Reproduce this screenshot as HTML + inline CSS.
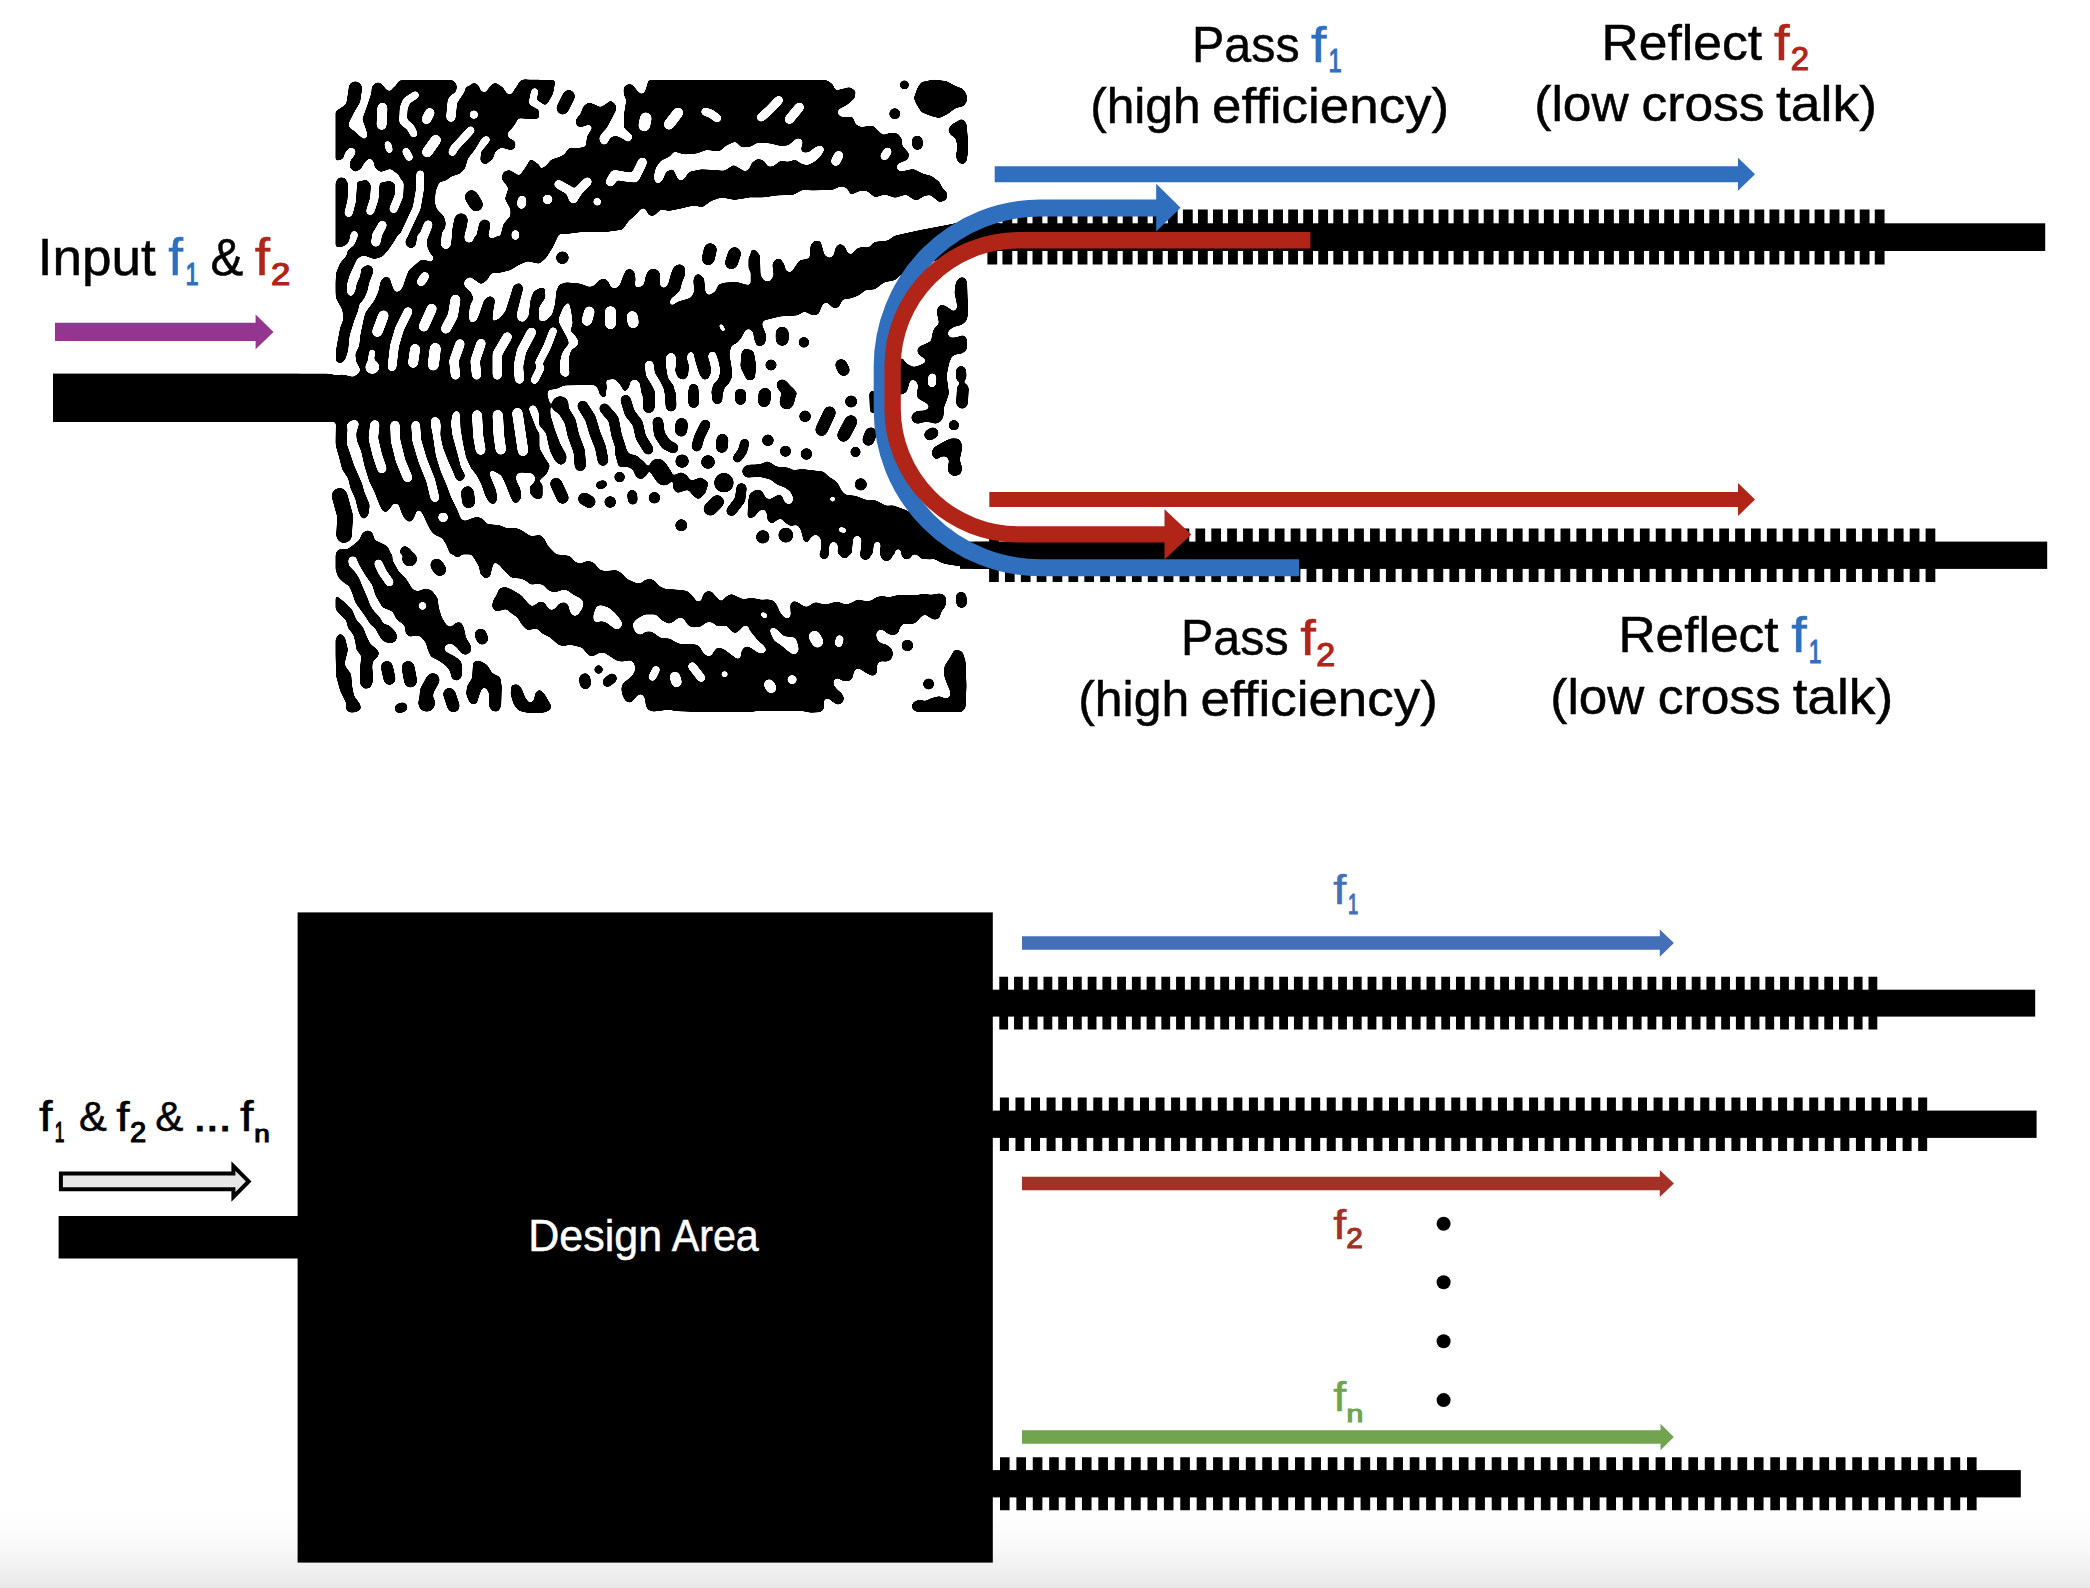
<!DOCTYPE html>
<html lang="en"><head><meta charset="utf-8"><title>Wavelength demultiplexer schematic</title>
<style>html,body{margin:0;padding:0;background:#fff}body{width:2090px;height:1588px;overflow:hidden}svg{display:block}text{font-family:"Liberation Sans",sans-serif}</style>
</head><body>
<svg width="2090" height="1588" viewBox="0 0 2090 1588">
<defs><linearGradient id="bg" x1="0" y1="0" x2="0" y2="1"><stop offset="0" stop-color="#fff"/><stop offset="0.49" stop-color="#f9f9f9"/><stop offset="1" stop-color="#e8e8e8"/></linearGradient></defs>
<rect width="2090" height="1588" fill="#fff"/>
<rect x="0" y="1510" width="2090" height="78" fill="url(#bg)"/>
<rect x="53" y="373.6" width="290" height="48.4"/>
<filter id="goo" x="0" y="0" width="100%" height="100%" filterUnits="userSpaceOnUse" color-interpolation-filters="sRGB"><feGaussianBlur stdDeviation="1.6"/><feComponentTransfer><feFuncR type="linear" slope="9" intercept="-4"/><feFuncG type="linear" slope="9" intercept="-4"/><feFuncB type="linear" slope="9" intercept="-4"/></feComponentTransfer></filter>
<g id="pattern" filter="url(#goo)" stroke-linecap="round" stroke-linejoin="round">
<rect x="300" y="50" width="700" height="700" fill="#fff"/>
<rect x="335.5" y="80" width="631.5" height="632" fill="#000"/>
<rect x="300" y="373.6" width="40" height="48.4" fill="#000"/>
<rect x="960" y="223.3" width="40" height="27.7" fill="#000"/>
<rect x="960" y="541.6" width="40" height="27.3" fill="#000"/>
<path d="M330.0 75.0L353.2 75.0L351.7 83.6L348.1 92.1L346.1 104.2L337.1 110.3L330.0 111.3z" fill="#fff"/>
<path d="M362.7 78.0L372.3 78.0L371.3 93.1L367.3 105.2L362.2 119.3L365.3 127.4L367.8 135.5L364.8 139.5L360.2 136.5L355.2 131.4L349.1 127.4L348.6 123.4L354.2 112.3L360.2 102.2L362.2 88.1z" fill="#fff"/>
<path d="M382.9 78.0L397.0 78.0L394.5 86.1L390.0 91.6L385.4 89.1L383.9 85.1z" fill="#fff"/>
<path d="M382.4 107.7L381.6 124.9" stroke="#fff" stroke-width="10.2" fill="none"/>
<path d="M415.1 95.2L406.6 100.7L403.6 108.3L403.1 121.4L410.6 127.4L413.6 133.4" stroke="#fff" stroke-width="7.9" fill="none"/>
<path d="M429.8 112.8L426.5 119.3" stroke="#fff" stroke-width="9.9" fill="none"/>
<path d="M463.0 78.0L460.0 90.1L452.4 101.2L450.9 117.3" stroke="#fff" stroke-width="9.6" fill="none"/>
<circle cx="473.9" cy="114.6" r="4.4" fill="#fff"/>
<path d="M478.1 78.0L491.2 78.0L489.7 87.1L484.7 93.1L480.1 90.1z" fill="#fff"/>
<path d="M499.3 78.0L519.4 78.0L515.9 87.1L511.4 94.6L507.3 94.1L503.3 88.1z" fill="#fff"/>
<path d="M534.6 91.6L532.5 102.2L540.0 106.2" stroke="#fff" stroke-width="7.3" fill="none"/>
<path d="M387.9 144.5L389.3 149.6" stroke="#fff" stroke-width="7.0" fill="none"/>
<path d="M406.1 151.6L409.1 157.1" stroke="#fff" stroke-width="7.7" fill="none"/>
<path d="M435.8 140.0L427.2 152.1" stroke="#fff" stroke-width="10.7" fill="none"/>
<path d="M470.6 130.4L453.9 148.6L452.4 152.1" stroke="#fff" stroke-width="8.1" fill="none"/>
<path d="M540.6 118.3L533.5 119.3L518.4 118.3L514.4 125.4L507.3 133.4L508.4 137.5L515.4 141.5L515.4 147.6L511.4 150.6L501.3 147.6L495.3 151.6L493.2 158.6L485.2 165.2L480.1 160.7L481.1 151.6L487.2 144.5L490.7 139.5L487.2 135.5L482.2 137.5L475.1 149.6L468.0 158.6L465.0 168.7L460.0 173.8L450.9 176.8L445.9 180.8L439.3 182.3L435.8 190.9L434.8 202.0L436.8 209.0L443.9 216.1L445.9 223.1L443.9 236.2L500.3 236.2L503.3 224.1L510.4 216.1L510.4 209.0L504.8 198.9L508.4 187.9L501.3 178.8L503.3 171.7L509.4 169.7L519.4 175.8L526.5 165.7L530.5 158.6L540.6 165.7z" fill="#fff"/>
<path d="M471.6 196.9L476.1 204.5" stroke="#000" stroke-width="13.8" fill="none"/>
<path d="M461.0 220.1L458.0 236.2" stroke="#000" stroke-width="13.8" fill="none"/>
<path d="M484.7 225.1L482.2 236.2" stroke="#000" stroke-width="11.6" fill="none"/>
<path d="M522.0 199.9L521.5 204.5" stroke="#fff" stroke-width="9.0" fill="none"/>
<path d="M334.0 161.7L343.1 159.1L345.1 152.6L350.2 147.0L355.7 149.6L355.2 154.6L350.2 160.7L349.6 167.7L355.2 172.2L361.2 168.7L364.3 162.7L369.3 158.1L373.3 160.7L374.8 167.7L380.4 172.2L390.5 168.7L398.5 174.8L403.1 183.8L400.5 187.9L390.5 180.8L384.4 181.8L370.8 184.8L367.3 179.8L361.2 180.8L348.1 183.8L345.1 177.8L339.1 177.3L334.0 183.8z" fill="#fff"/>
<path d="M399.5 183.8L399.0 195.9L393.5 209.0" stroke="#fff" stroke-width="8.5" fill="none"/>
<path d="M375.3 183.8L374.3 198.9L370.3 211.0" stroke="#fff" stroke-width="8.5" fill="none"/>
<path d="M352.7 183.8L351.7 201.0L348.6 213.0" stroke="#fff" stroke-width="8.5" fill="none"/>
<path d="M420.2 174.3L420.2 187.9L416.7 208.0L409.6 223.1L403.6 236.2" stroke="#fff" stroke-width="7.9" fill="none"/>
<path d="M382.4 225.1L376.4 236.2" stroke="#fff" stroke-width="9.0" fill="none"/>
<path d="M354.2 234.2L353.2 237.2" stroke="#fff" stroke-width="6.8" fill="none"/>
<path d="M428.2 224.6L423.7 236.2" stroke="#fff" stroke-width="9.0" fill="none"/>
<path d="M328.0 73.0L541.1 73.0L541.1 86.3L328.0 86.3z" fill="#fff"/>
<path d="M355.2 88.1L355.2 89.7" stroke="#000" stroke-width="13.5" fill="none"/>
<path d="M377.9 88.1L377.9 87.9" stroke="#000" stroke-width="11.1" fill="none"/>
<path d="M402.8 88.1L402.8 86.9" stroke="#000" stroke-width="14.1" fill="none"/>
<path d="M450.2 88.1L450.2 86.5" stroke="#000" stroke-width="13.3" fill="none"/>
<path d="M402.8 80.0L450.2 80.0L450.2 88.1L402.8 88.1z" fill="#000"/>
<path d="M474.1 88.1L474.1 90.1" stroke="#000" stroke-width="10.1" fill="none"/>
<path d="M495.3 88.1L495.3 89.1" stroke="#000" stroke-width="10.1" fill="none"/>
<path d="M524.7 88.1L524.7 86.3" stroke="#000" stroke-width="14.1" fill="none"/>
<path d="M524.7 79.6L541.1 79.6L541.1 88.1L524.7 88.1z" fill="#000"/>
<path d="M555.1 78.0L648.8 78.0L646.8 86.1L644.8 92.1L641.3 94.6L636.7 90.1L632.7 84.6L627.7 84.1L623.6 87.1L623.6 94.1L626.2 100.2L624.1 113.3L623.6 127.4L627.7 131.4L632.7 135.5L631.2 140.5L627.7 142.0L621.6 138.0L615.6 135.5L610.5 137.5L606.5 144.5L601.5 144.5L598.9 138.5L601.5 133.4L606.5 128.4L611.5 119.3L616.6 109.3L615.6 104.2L610.5 100.2L605.5 104.2L600.5 107.2L594.4 104.2L588.4 102.2L583.3 106.2L580.3 114.3L575.8 119.3L576.3 125.4L580.3 127.4L589.4 124.4L592.4 127.4L586.9 136.5L585.8 146.5L578.3 148.1L569.2 147.6L564.2 154.6L559.1 157.1L551.1 159.6L546.0 165.7L540.0 169.2L539.0 107.2L547.1 104.2L553.1 94.1L555.1 83.1z" fill="#fff"/>
<path d="M568.7 96.2L562.7 108.3" stroke="#000" stroke-width="12.7" fill="none"/>
<path d="M645.8 118.3L644.3 125.4" stroke="#fff" stroke-width="11.9" fill="none"/>
<path d="M678.0 112.8L669.0 124.4" stroke="#fff" stroke-width="10.7" fill="none"/>
<path d="M705.3 111.8L711.3 113.8L717.3 118.3" stroke="#fff" stroke-width="8.5" fill="none"/>
<path d="M653.9 175.8L655.9 167.7L660.9 160.7L670.0 156.6L674.0 151.6L684.1 154.6L697.2 153.6L706.3 150.1L719.4 151.6L726.4 145.5L735.5 141.5L741.5 147.6L750.6 147.0L750.6 166.7L745.6 171.7L733.5 164.7L724.4 170.7L711.3 169.7L701.2 169.2L689.1 171.7L683.1 180.3L678.6 180.3L673.0 168.7L666.0 171.7L662.9 179.8L657.9 184.3L654.4 180.8z" fill="#fff"/>
<path d="M610.5 181.8L614.6 174.8L625.7 176.8L634.7 177.8L640.8 165.7L642.3 162.2" stroke="#fff" stroke-width="9.6" fill="none"/>
<path d="M558.6 184.3L570.2 190.9L573.3 198.9" stroke="#fff" stroke-width="9.0" fill="none"/>
<path d="M587.4 181.8L578.3 190.9L573.3 198.9" stroke="#fff" stroke-width="9.0" fill="none"/>
<circle cx="547.6" cy="199.4" r="5.0" fill="#fff"/>
<circle cx="597.2" cy="201.8" r="4.0" fill="#fff"/>
<path d="M559.1 235.0L580.3 232.2L604.5 232.2L622.6 229.7L628.7 221.1L635.7 215.1L640.8 209.0L644.8 208.0L648.8 215.6L653.9 216.1L660.9 209.5L669.0 211.0L679.1 209.0L694.2 205.5L702.2 207.5L711.3 201.0L721.4 197.4L734.5 199.9L750.6 197.4L750.6 236.2L559.1 236.2z" fill="#fff"/>
<path d="M826.6 78.0L981.8 78.0L981.8 236.2L749.0 236.2L749.0 197.4L763.1 197.4L777.2 195.4L793.3 194.9L802.4 189.9L812.5 190.4L832.6 189.9L840.7 186.3L846.7 187.9L850.8 194.9L859.8 190.9L866.9 190.9L874.9 197.4L885.0 194.4L895.1 197.9L906.2 194.4L910.2 197.4L916.3 201.0L924.3 195.9L930.4 194.9L939.4 202.5L946.5 199.9L947.5 192.9L942.5 187.9L939.4 181.8L931.4 175.8L923.3 173.8L913.2 168.7L900.1 171.7L896.1 167.7L898.1 163.7L908.2 159.6L909.2 153.6L902.2 145.5L902.2 139.5L898.1 133.4L891.1 132.4L883.0 135.0L877.0 129.4L872.9 125.4L860.8 126.9L855.8 124.4L852.8 116.8L840.7 116.8L837.2 113.3L838.7 109.3L846.7 105.2L854.8 98.2L855.8 91.1L849.8 87.1L835.7 90.6L832.6 84.1L826.6 80.0z" fill="#fff"/>
<circle cx="904.4" cy="84.9" r="4.7" fill="#000"/>
<path d="M921.3 82.1L933.4 79.5L946.5 81.0L955.6 86.1L962.6 88.6L966.6 94.1L967.2 101.2L963.6 106.2L955.6 108.3L947.5 114.3L939.4 118.3L931.4 116.3L921.3 112.3L916.3 104.2L913.7 98.2L917.3 88.1z" fill="#000"/>
<circle cx="894.8" cy="113.8" r="5.7" fill="#000"/>
<path d="M917.3 141.0L917.5 144.5" stroke="#000" stroke-width="11.1" fill="none"/>
<path d="M962.6 119.0L960.6 119.3L951.5 124.4L948.0 129.4L950.0 134.5L955.6 138.5L957.6 147.6L955.6 155.6L957.6 161.7L962.6 164.7L966.6 161.7L968.2 151.6L967.7 135.5L966.6 123.4z" fill="#000"/>
<path d="M891.1 236.2L921.3 229.7L951.5 224.1L971.7 219.1L971.7 236.2z" fill="#000"/>
<path d="M778.7 100.2L770.2 109.3L761.1 117.3" stroke="#fff" stroke-width="9.0" fill="none"/>
<path d="M799.4 107.2L789.3 119.3" stroke="#fff" stroke-width="9.6" fill="none"/>
<path d="M749.0 147.0L750.0 147.0L758.1 142.5L770.2 143.5L780.2 146.0L788.3 145.5L796.4 138.5L800.4 138.5L802.9 141.5L800.9 149.6L802.4 152.6L808.4 152.6L815.5 147.0L821.5 145.0L824.6 149.6L820.5 156.6L814.5 161.7L807.4 165.2L801.4 163.7L795.3 159.6L788.3 161.7L780.2 160.7L773.2 166.2L768.1 166.7L764.1 160.7L758.1 158.6L753.0 161.7L749.0 165.7z" fill="#fff"/>
<path d="M838.7 155.6L835.7 161.2" stroke="#fff" stroke-width="9.6" fill="none"/>
<path d="M887.5 151.6L884.5 156.1" stroke="#fff" stroke-width="8.5" fill="none"/>
<path d="M377.4 234.0L375.8 242.1" stroke="#fff" stroke-width="9.6" fill="none"/>
<path d="M329.0 247.6L336.5 247.3L342.1 247.1L347.6 244.1L350.2 238.0L352.7 233.0L357.2 232.5L358.2 235.5L354.2 245.3L347.6 250.3L346.6 255.4L340.1 262.9L336.0 273.0L334.5 285.4L335.5 297.5L342.1 309.6L343.6 318.6L340.1 327.7L337.6 340.8L335.5 352.9L336.0 362.0L329.0 364.0z" fill="#fff"/>
<path d="M357.2 258.7L363.3 255.2L374.3 259.2L382.4 256.7L388.4 250.1L394.5 241.0L398.5 234.0L405.1 234.0L405.6 245.1L410.6 249.1L415.7 246.1L417.7 234.0L426.7 234.0L427.2 247.1L429.8 253.1L433.8 257.2L431.8 262.2L426.7 260.2L420.7 259.7L415.7 264.2L408.6 270.3L405.6 278.3L402.6 287.4L398.5 291.9L394.5 291.4L391.5 283.4L389.5 277.3L384.4 276.8L380.4 281.4L378.4 291.4L374.3 300.5L365.3 312.6L363.3 320.7L360.2 335.8L359.2 345.8L355.2 353.9L356.2 362.0L360.2 369.0L359.2 373.0L353.2 377.1L343.1 374.6L335.0 375.1L329.0 373.6L329.0 364.0L336.0 362.0L341.1 363.5L345.1 359.9L348.1 350.9L349.6 335.8L354.2 320.7L358.2 310.6L359.2 304.5L364.3 298.5L367.3 291.4L369.3 282.4L373.3 272.3L372.3 266.2L367.3 264.7L361.2 268.3L360.2 276.3L356.7 283.4L355.2 291.4L351.2 297.0L347.1 293.4L346.6 285.4L349.6 275.3L354.2 265.2z" fill="#fff"/>
<path d="M424.7 276.3L421.2 281.9" stroke="#fff" stroke-width="9.0" fill="none"/>
<path d="M383.4 315.6L377.4 331.7" stroke="#fff" stroke-width="10.7" fill="none"/>
<path d="M408.1 311.6L399.5 328.7L394.5 345.8L392.0 367.0" stroke="#fff" stroke-width="9.0" fill="none"/>
<path d="M431.8 308.6L423.7 326.7" stroke="#fff" stroke-width="10.2" fill="none"/>
<path d="M455.5 299.5L452.9 315.6L445.9 328.7" stroke="#fff" stroke-width="10.2" fill="none"/>
<path d="M540.6 264.2L527.5 261.2L518.4 265.2L510.4 270.3L500.3 272.8L491.2 273.3L487.2 280.3L481.1 284.4L475.1 280.3L470.1 276.8L464.5 280.3L464.0 285.4L471.1 292.4L473.6 298.5L470.1 305.5L468.6 315.6L470.1 322.7L476.1 321.2L479.1 314.6L484.2 299.5L490.2 295.5L495.3 299.5L493.2 311.6L492.2 321.7L499.3 318.6L505.3 311.6L510.4 295.5L513.4 285.4L519.4 282.4L523.5 287.4L520.4 299.5L516.4 315.6L518.4 320.7L523.5 322.2L528.5 316.6L530.5 299.5L533.5 291.4L540.6 287.4z" fill="#fff"/>
<path d="M372.1 352.4L370.8 361.0" stroke="#fff" stroke-width="6.2" fill="none"/>
<circle cx="372.3" cy="367.0" r="7.1" fill="#fff"/>
<path d="M415.1 348.9L413.1 363.0" stroke="#fff" stroke-width="10.2" fill="none"/>
<path d="M435.3 348.4L433.3 365.0" stroke="#fff" stroke-width="11.3" fill="none"/>
<path d="M460.0 343.8L453.9 361.0L455.5 375.1" stroke="#fff" stroke-width="9.6" fill="none"/>
<path d="M481.1 343.3L475.1 361.0L476.6 375.1" stroke="#fff" stroke-width="9.6" fill="none"/>
<path d="M507.3 336.8L497.3 353.9L497.3 375.1" stroke="#fff" stroke-width="9.6" fill="none"/>
<path d="M531.5 332.2L521.5 350.9L518.4 366.0L519.4 379.1" stroke="#fff" stroke-width="9.6" fill="none"/>
<path d="M540.6 368.0L534.6 380.1" stroke="#fff" stroke-width="7.9" fill="none"/>
<path d="M446.9 234.0L445.9 244.1" stroke="#fff" stroke-width="10.2" fill="none"/>
<path d="M469.6 234.0L469.1 238.0" stroke="#fff" stroke-width="9.6" fill="none"/>
<path d="M492.2 234.0L492.2 235.0" stroke="#fff" stroke-width="6.8" fill="none"/>
<path d="M515.4 234.0L515.4 236.0" stroke="#fff" stroke-width="7.9" fill="none"/>
<path d="M539.0 264.2L546.0 258.2L553.1 247.1L559.1 234.0L750.6 234.0L750.6 284.9L745.6 284.4L737.5 281.9L724.4 282.4L718.4 284.4L715.3 291.4L708.3 295.5L705.3 291.4L704.2 278.3L699.2 273.8L695.2 274.8L693.2 280.3L694.2 291.4L691.1 297.5L685.1 299.5L678.0 301.5L672.0 305.5L669.5 303.5L671.0 298.5L675.0 295.5L680.1 290.4L682.1 282.4L685.1 275.3L685.1 267.2L680.1 263.7L674.0 266.2L671.0 273.3L668.0 284.4L663.9 288.4L659.9 285.4L659.9 272.3L654.9 268.3L648.8 269.8L645.8 275.3L643.8 284.9L637.7 287.9L634.7 285.4L635.7 279.3L634.7 272.3L630.2 268.3L625.7 270.3L622.6 277.3L619.6 285.4L614.6 288.9L610.5 286.4L608.5 281.4L604.5 278.3L599.5 279.8L594.4 285.4L589.4 286.9L580.3 283.4L566.2 282.2L559.1 284.4L556.1 291.4L555.1 303.5L552.1 314.6L545.0 321.2L539.0 320.7L539.0 307.6L545.5 297.5L545.0 287.9L539.0 287.4z" fill="#fff"/>
<circle cx="562.4" cy="257.7" r="6.5" fill="#000"/>
<path d="M710.3 249.6L708.3 258.7" stroke="#000" stroke-width="13.2" fill="none"/>
<path d="M734.5 253.6L731.5 262.7" stroke="#000" stroke-width="13.2" fill="none"/>
<path d="M751.1 258.2L751.1 268.3" stroke="#000" stroke-width="5.3" fill="none"/>
<path d="M568.7 301.5L571.2 311.6L572.7 323.7L570.2 330.7L575.3 335.8L578.8 341.8L577.3 345.8L571.2 349.9L569.2 355.9L568.7 365.0L569.7 375.1L565.2 377.6L560.2 374.1L559.6 364.0L561.7 353.9L565.2 347.9L569.2 343.8L567.2 337.8L562.2 328.7L559.1 322.7L558.6 318.6L563.2 307.6z" fill="#fff"/>
<path d="M589.4 311.6L586.9 320.7" stroke="#fff" stroke-width="10.7" fill="none"/>
<path d="M610.5 311.6L610.5 323.7" stroke="#fff" stroke-width="11.3" fill="none"/>
<path d="M632.2 316.6L633.2 322.7" stroke="#fff" stroke-width="11.3" fill="none"/>
<path d="M720.9 325.7L723.4 329.7" stroke="#fff" stroke-width="4.0" fill="none"/>
<path d="M553.1 331.2L547.1 346.9L539.0 362.5" stroke="#fff" stroke-width="7.9" fill="none"/>
<path d="M547.1 396.2L548.1 390.2L557.1 388.7L564.2 385.6L594.4 385.1L598.4 389.2L599.5 396.2z" fill="#fff"/>
<path d="M606.0 380.1L614.6 379.1L619.6 384.1L624.6 392.2L628.7 388.2L630.7 381.1L635.7 379.1L639.8 383.1L641.8 396.2L604.5 396.2L607.0 388.2z" fill="#fff"/>
<path d="M649.3 365.0L650.3 374.1L655.9 383.1L659.4 390.2L660.4 396.2" stroke="#fff" stroke-width="9.0" fill="none"/>
<path d="M666.0 355.9L670.0 352.4L675.0 353.9L676.5 361.0L675.0 371.0L678.0 378.1L684.1 380.1L688.1 376.1L689.1 366.0L686.6 356.9L689.1 351.9L693.2 351.9L695.2 361.0L699.2 374.1L703.2 380.1L708.3 379.1L711.3 372.0L710.3 364.0L707.8 355.9L710.3 351.4L715.3 351.9L718.4 361.0L720.4 371.0L718.4 379.1L713.3 384.1L711.3 391.2L711.3 396.2L699.2 396.2L698.2 386.1L693.2 383.1L689.1 386.1L687.6 396.2L675.0 396.2L674.0 386.1L668.0 378.1L666.0 366.0z" fill="#fff"/>
<path d="M750.6 328.7L745.6 329.7L741.5 337.8L737.5 342.8L731.5 345.8L729.4 353.9L731.5 366.0L732.5 376.1L729.4 383.1L724.4 388.2L722.4 396.2L750.6 396.2z" fill="#fff"/>
<path d="M746.6 353.9L745.6 366.0L750.6 376.1" stroke="#000" stroke-width="10.6" fill="none"/>
<circle cx="740.5" cy="394.7" r="6.0" fill="#000"/>
<path d="M749.0 234.0L896.1 234.0L888.0 240.5L881.0 241.0L873.9 242.1L868.9 247.6L860.8 247.1L855.8 249.1L851.8 254.6L847.7 253.1L844.7 246.1L839.7 243.6L835.7 247.1L833.6 255.2L829.6 258.2L824.6 255.2L822.6 248.1L820.5 241.0L814.5 240.5L810.5 245.1L809.5 258.2L799.4 260.2L795.3 266.2L791.3 272.3L786.3 271.3L784.3 264.2L780.2 258.2L775.2 259.2L772.2 264.2L773.7 275.3L770.2 281.4L764.1 280.8L760.6 275.3L760.1 255.2L755.0 249.6L749.0 250.1z" fill="#fff"/>
<path d="M981.8 245.1L960.6 251.1L941.5 258.2L901.1 274.8L895.1 280.3L884.0 282.4L874.9 289.4L865.9 289.9L858.8 295.5L850.8 298.5L842.7 299.5L838.7 307.6L833.6 308.6L826.6 302.0L822.6 304.5L818.5 314.6L812.5 315.6L804.4 311.6L797.4 315.6L780.2 316.6L763.1 320.7L762.1 324.7L766.6 335.8L765.1 343.8L761.1 346.3L756.5 345.8L754.0 338.8L753.0 331.7L749.0 329.7L749.0 396.2L981.8 396.2z" fill="#fff"/>
<path d="M750.0 353.9L752.0 366.0L751.0 376.1" stroke="#000" stroke-width="8.5" fill="none"/>
<path d="M782.2 333.2L782.2 339.3" stroke="#000" stroke-width="13.2" fill="none"/>
<circle cx="803.9" cy="342.3" r="5.5" fill="#000"/>
<circle cx="771.0" cy="365.0" r="5.8" fill="#000"/>
<path d="M841.2 365.0L843.7 370.0" stroke="#000" stroke-width="12.2" fill="none"/>
<path d="M782.2 385.1L792.3 396.2" stroke="#000" stroke-width="11.6" fill="none"/>
<circle cx="764.1" cy="394.7" r="6.0" fill="#000"/>
<path d="M967.7 277.3L960.6 277.3L956.6 282.4L954.6 295.5L957.6 305.5L951.5 310.6L941.5 304.5L937.4 309.6L938.4 320.7L935.4 328.7L932.4 334.8L931.4 341.8L923.3 344.8L917.3 348.9L919.3 354.9L925.3 361.0L915.3 367.0L907.2 363.0L901.1 355.9L899.1 376.1L898.1 396.2L967.7 396.2z" fill="#000"/>
<path d="M952.5 333.2L961.1 330.7" stroke="#fff" stroke-width="9.0" fill="none"/>
<path d="M932.4 377.1L932.4 383.1" stroke="#fff" stroke-width="7.3" fill="none"/>
<path d="M912.2 384.1L910.2 396.2" stroke="#fff" stroke-width="10.2" fill="none"/>
<circle cx="961.1" cy="371.0" r="4.5" fill="#fff"/>
<path d="M329.0 422.2L335.5 422.2L335.0 443.4L339.1 457.5L342.1 469.6L348.1 478.6L350.2 487.7L355.2 498.8L358.2 510.9L361.2 517.9L365.3 518.9L368.8 513.9L369.8 504.8L364.3 491.7L362.2 483.7L354.2 465.5L348.1 447.4L346.6 443.4L347.6 428.3L346.1 425.2L350.2 420.7L356.2 419.7L359.2 423.2L356.2 433.3L356.7 440.3L361.2 451.4L364.3 465.5L369.3 481.7L374.3 491.7L379.4 504.8L382.4 510.9L386.4 512.4L390.5 507.9L393.5 503.3L398.5 504.3L401.5 512.9L404.6 518.9L409.6 522.5L413.6 518.9L416.7 510.9L419.7 509.9L422.7 513.9L426.7 523.0L430.8 531.0L434.8 535.1L441.9 538.1L445.9 544.1L450.9 556.2L329.0 556.2z" fill="#fff"/>
<path d="M339.6 495.8L345.1 515.9L344.1 535.1" stroke="#000" stroke-width="15.9" fill="none"/>
<path d="M335.0 556.2L337.1 550.2L341.1 548.7L347.1 549.2L353.2 545.1L359.2 540.1L362.2 533.0L367.3 530.0L372.3 532.0L374.8 540.1L381.4 543.1L387.4 546.1L390.5 552.2L390.5 556.2z" fill="#000"/>
<path d="M399.5 556.2L400.5 548.2L404.6 545.6L409.6 548.2L415.7 556.2z" fill="#000"/>
<path d="M374.8 424.7L373.3 438.3L377.4 455.5L381.9 468.6" stroke="#fff" stroke-width="9.6" fill="none"/>
<path d="M395.0 425.2L395.5 440.3L400.5 460.5L407.6 477.6" stroke="#fff" stroke-width="9.6" fill="none"/>
<path d="M415.7 425.2L416.7 440.3L422.7 460.5L430.8 480.7L434.8 497.8" stroke="#fff" stroke-width="9.0" fill="none"/>
<path d="M430.8 419.2L434.8 416.2L439.8 419.2L440.8 425.2L440.3 435.3L442.9 447.4L447.9 460.5L452.9 471.6L456.0 479.6L460.0 481.7L464.5 478.6L465.0 474.6L461.0 467.6L458.0 455.5L452.4 435.3L450.9 423.2L452.4 414.1L456.5 410.1L460.0 413.6L460.5 428.3L463.0 443.4L466.0 457.5L471.1 468.6L476.1 474.6L481.1 483.7L485.2 495.8L489.2 502.8L494.2 504.8L497.3 499.8L496.3 490.7L492.2 480.7L489.2 473.6L491.2 470.1L496.3 472.6L501.3 475.6L505.3 483.7L510.4 496.8L513.4 502.8L517.4 503.3L521.5 497.8L520.4 488.7L516.4 480.7L515.9 475.6L519.4 472.6L531.5 473.1L535.6 477.6L534.6 481.7L529.5 486.7L530.0 493.8L534.6 498.8L540.6 498.8L540.6 535.1L530.5 536.1L521.5 530.0L516.4 528.0L506.3 528.0L499.3 525.0L487.2 524.0L483.2 518.9L477.1 516.4L471.1 518.4L465.0 521.0L461.0 518.9L457.0 508.9L450.9 496.8L446.9 485.7L440.8 471.6L435.8 455.5L432.8 435.3L430.8 425.2z" fill="#fff"/>
<path d="M467.5 492.7L468.6 501.8" stroke="#000" stroke-width="13.2" fill="none"/>
<circle cx="443.1" cy="517.4" r="5.0" fill="#fff"/>
<path d="M477.1 415.2L478.1 435.3L480.6 449.9" stroke="#fff" stroke-width="10.2" fill="none"/>
<path d="M497.8 415.2L498.8 435.3L500.8 449.4" stroke="#fff" stroke-width="10.7" fill="none"/>
<path d="M517.4 413.1L520.4 433.3L523.0 450.9" stroke="#fff" stroke-width="10.7" fill="none"/>
<path d="M533.0 409.1L540.6 428.3" stroke="#fff" stroke-width="7.9" fill="none"/>
<path d="M539.5 394.5L750.6 394.5L750.6 555.7L539.5 555.7z" fill="#fff"/>
<path d="M539.0 394.0L547.1 394.0L550.1 404.1L550.6 415.2L555.1 430.3L560.2 443.4L566.7 455.5L566.2 461.5L561.2 465.5L555.1 461.5L550.1 451.4L548.1 443.4L546.0 433.3L539.0 425.2z" fill="#000"/>
<path d="M539.0 447.4L546.0 459.5L550.1 465.5L547.1 473.6L539.0 480.7z" fill="#000"/>
<path d="M539.5 485.7L539.5 495.8" stroke="#000" stroke-width="6.3" fill="none"/>
<path d="M560.2 405.1L570.2 421.2L573.3 435.3L579.3 451.4L580.3 465.5" stroke="#000" stroke-width="11.6" fill="none"/>
<circle cx="560.2" cy="404.6" r="8.6" fill="#000"/>
<path d="M582.8 406.1L590.4 418.2L594.9 433.3L600.5 447.4L603.0 460.5" stroke="#000" stroke-width="11.1" fill="none"/>
<path d="M604.5 408.6L613.6 419.2L616.6 435.3L620.6 447.4" stroke="#000" stroke-width="10.6" fill="none"/>
<path d="M614.6 452.4L617.6 442.4L625.7 447.4L628.7 453.4L636.7 455.5L643.8 461.5L649.8 468.6L646.8 475.6L640.8 480.1L635.7 476.6L632.7 469.6L627.7 467.0L618.6 467.0z" fill="#000"/>
<path d="M625.7 400.0L629.7 413.1L637.7 423.2L640.8 437.3L648.3 449.4" stroke="#000" stroke-width="10.6" fill="none"/>
<path d="M648.8 394.0L648.8 407.1" stroke="#000" stroke-width="12.2" fill="none"/>
<path d="M670.5 394.0L671.0 406.1" stroke="#000" stroke-width="11.1" fill="none"/>
<path d="M693.2 394.0L693.7 402.6" stroke="#000" stroke-width="11.1" fill="none"/>
<path d="M717.3 394.0L717.3 399.0" stroke="#000" stroke-width="10.6" fill="none"/>
<path d="M740.5 394.0L740.5 399.5" stroke="#000" stroke-width="11.1" fill="none"/>
<circle cx="603.5" cy="394.5" r="3.0" fill="#000"/>
<path d="M657.9 422.2L659.4 434.3L666.0 444.4L673.0 447.9" stroke="#000" stroke-width="11.1" fill="none"/>
<path d="M681.6 424.2L681.1 430.3" stroke="#000" stroke-width="12.7" fill="none"/>
<path d="M705.3 424.7L699.2 437.3L696.7 446.4" stroke="#000" stroke-width="10.6" fill="none"/>
<path d="M722.4 439.8L721.9 446.9" stroke="#000" stroke-width="12.2" fill="none"/>
<path d="M744.6 443.4L742.5 451.4L737.5 458.0" stroke="#000" stroke-width="9.5" fill="none"/>
<circle cx="682.1" cy="461.2" r="6.9" fill="#000"/>
<circle cx="708.0" cy="462.0" r="7.1" fill="#000"/>
<circle cx="748.6" cy="471.3" r="6.5" fill="#000"/>
<path d="M657.9 467.6L663.9 476.6" stroke="#000" stroke-width="18.0" fill="none"/>
<path d="M673.0 475.6L681.1 472.1L686.1 474.6L691.1 480.7L701.2 477.1L708.8 482.7L705.3 493.8L698.2 499.8L693.2 495.8L688.1 489.7L677.0 493.2L673.0 488.7z" fill="#000"/>
<circle cx="723.9" cy="482.7" r="9.9" fill="#000"/>
<path d="M741.5 488.2L740.0 499.8L731.5 510.9" stroke="#000" stroke-width="10.6" fill="none"/>
<path d="M717.3 501.8L710.3 508.9" stroke="#000" stroke-width="13.8" fill="none"/>
<path d="M750.6 500.8L750.1 515.9" stroke="#000" stroke-width="5.3" fill="none"/>
<circle cx="619.6" cy="477.1" r="5.5" fill="#000"/>
<path d="M600.0 485.2L603.0 484.2" stroke="#000" stroke-width="8.5" fill="none"/>
<path d="M584.3 498.8L589.4 501.8" stroke="#000" stroke-width="12.7" fill="none"/>
<circle cx="610.2" cy="502.0" r="6.0" fill="#000"/>
<path d="M632.2 494.8L632.7 499.8" stroke="#000" stroke-width="10.1" fill="none"/>
<circle cx="654.4" cy="497.8" r="6.0" fill="#000"/>
<path d="M556.1 483.7L562.7 497.8" stroke="#000" stroke-width="12.2" fill="none"/>
<circle cx="681.3" cy="525.3" r="6.2" fill="#000"/>
<path d="M539.0 534.1L544.0 538.1L548.1 546.1L558.1 556.2L539.0 556.2z" fill="#000"/>
<path d="M749.5 394.5L971.7 394.5L971.7 555.7L749.5 555.7z" fill="#fff"/>
<path d="M749.0 464.5L756.0 464.5L762.1 463.5L767.1 461.0L772.2 463.5L776.2 466.5L788.3 467.6L793.3 470.1L802.4 469.1L823.6 471.6L828.6 476.6L833.6 479.6L837.7 482.7L841.7 490.7L845.7 494.8L855.8 495.8L865.9 499.8L876.0 500.3L886.0 505.8L893.1 505.3L906.2 509.9L916.3 515.9L936.4 529.0L967.7 544.1L967.7 556.2L819.5 556.2L821.5 546.1L820.5 538.1L815.5 534.1L810.5 538.1L807.4 543.1L803.4 541.1L802.4 536.1L800.4 529.0L797.4 525.0L790.3 526.0L785.3 523.0L781.2 518.4L777.2 519.9L772.2 524.0L767.6 521.0L766.6 512.9L764.1 508.9L759.1 510.9L754.0 517.4L749.0 517.9z" fill="#000"/>
<path d="M749.0 477.6L750.0 477.6L760.1 477.1L770.2 479.6L777.2 484.7L785.3 487.7L790.3 491.7L793.3 497.8L792.3 502.8L788.3 504.8L784.3 501.8L782.2 495.8L779.2 494.3L774.2 496.8L769.1 499.8L765.1 496.8L762.1 490.7L757.1 489.2L752.0 491.7L749.0 494.8z" fill="#fff"/>
<circle cx="832.6" cy="499.1" r="2.8" fill="#fff"/>
<path d="M840.7 529.5L844.2 530.5" stroke="#fff" stroke-width="5.1" fill="none"/>
<path d="M833.6 546.1L833.1 556.2" stroke="#fff" stroke-width="8.5" fill="none"/>
<path d="M857.3 540.1L855.8 556.2" stroke="#fff" stroke-width="8.5" fill="none"/>
<path d="M877.2 545.1L876.0 556.2" stroke="#fff" stroke-width="6.8" fill="none"/>
<path d="M898.1 552.2L899.1 556.2" stroke="#fff" stroke-width="6.2" fill="none"/>
<circle cx="785.8" cy="535.1" r="7.6" fill="#000"/>
<path d="M765.1 394.0L764.1 401.0" stroke="#000" stroke-width="12.7" fill="none"/>
<path d="M788.8 394.0L786.8 402.1" stroke="#000" stroke-width="14.8" fill="none"/>
<circle cx="851.1" cy="401.5" r="6.2" fill="#000"/>
<circle cx="805.1" cy="416.2" r="6.0" fill="#000"/>
<path d="M829.6 412.6L821.5 429.8" stroke="#000" stroke-width="12.7" fill="none"/>
<path d="M850.8 421.7L843.7 435.3" stroke="#000" stroke-width="13.2" fill="none"/>
<path d="M870.9 433.3L868.4 439.8" stroke="#000" stroke-width="12.2" fill="none"/>
<path d="M872.4 394.0L872.9 410.1" stroke="#000" stroke-width="6.3" fill="none"/>
<circle cx="767.9" cy="440.3" r="6.0" fill="#000"/>
<circle cx="785.5" cy="451.2" r="5.8" fill="#000"/>
<circle cx="806.4" cy="453.9" r="6.0" fill="#000"/>
<circle cx="855.5" cy="451.9" r="5.3" fill="#000"/>
<circle cx="860.8" cy="484.4" r="6.3" fill="#000"/>
<circle cx="762.8" cy="536.9" r="6.9" fill="#000"/>
<path d="M916.3 394.0L950.5 394.0L946.5 401.0L943.5 410.1L941.5 420.2L936.4 423.7L927.3 421.2L919.3 424.2L912.2 421.2L911.2 415.2L915.3 411.1L927.3 408.1L930.4 404.1L923.3 400.0L917.3 398.0z" fill="#000"/>
<path d="M961.1 397.0L961.1 405.1" stroke="#000" stroke-width="6.3" fill="none"/>
<circle cx="953.7" cy="425.5" r="5.0" fill="#000"/>
<path d="M929.4 435.3L934.4 433.8" stroke="#000" stroke-width="11.1" fill="none"/>
<path d="M967.7 439.3L951.5 439.3L941.5 443.4L932.4 448.4L932.4 456.5L936.4 459.5L945.5 455.5L949.5 457.5L947.5 465.5L948.5 473.6L954.6 476.1L967.7 473.6z" fill="#000"/>
<path d="M329.5 554.5L540.6 554.5L540.6 726.3L329.5 726.3z" fill="#fff"/>
<path d="M335.5 554.0L350.2 554.0L348.1 561.0L349.1 566.1L355.2 572.1L359.2 578.2L363.3 588.3L367.3 597.3L370.3 605.4L374.3 611.4L379.4 616.5L383.4 623.5L389.5 625.5L395.5 631.6L397.5 636.6L395.5 641.7L389.5 643.7L382.4 640.7L378.4 634.6L375.3 628.6L370.3 624.5L365.3 616.5L360.2 609.4L355.2 602.4L352.2 593.3L349.1 586.2L343.1 582.2L338.1 577.2L335.5 570.1z" fill="#000"/>
<path d="M348.1 554.5L358.2 554.5" stroke="#000" stroke-width="4.2" fill="none"/>
<path d="M356.2 554.0L392.5 554.0L392.5 560.0L398.5 571.1L406.6 579.2L412.6 589.3L417.7 591.3L425.7 588.3L431.8 590.3L437.8 598.3L438.8 607.4L441.9 617.5L446.9 625.5L450.9 627.0L456.0 622.5L461.0 622.0L464.0 627.6L466.0 637.6L471.1 645.7L471.1 651.7L466.0 655.3L461.0 653.2L457.0 647.7L451.9 643.7L446.9 644.2L443.9 647.7L445.9 651.7L453.9 655.8L461.0 660.8L462.5 667.9L461.5 677.9L457.0 681.0L451.9 678.9L449.9 670.9L445.9 665.8L438.8 660.8L430.8 656.8L427.7 649.7L425.7 642.7L420.7 636.6L415.7 635.6L409.6 637.1L405.6 633.6L404.6 625.5L396.5 619.5L392.5 611.4L382.4 607.4L375.3 595.3L372.3 585.2L365.3 575.2L359.2 565.1L356.2 558.0z" fill="#000"/>
<path d="M378.4 563.6L382.4 572.1L389.5 582.2" stroke="#fff" stroke-width="8.5" fill="none"/>
<circle cx="422.5" cy="605.9" r="4.2" fill="#fff"/>
<path d="M336.0 595.3L345.1 602.4L352.2 609.4L356.2 619.5L363.3 627.6L366.3 635.6L370.3 643.7L376.4 648.7L379.4 652.7L377.4 657.8L373.3 660.8L372.3 665.8L373.3 681.0L370.3 688.0L364.3 689.0L360.2 685.0L360.2 665.8L361.2 655.8L356.2 649.7L355.2 641.7L353.2 634.6L348.1 628.6L346.1 620.5L339.1 613.4L335.5 609.4L335.5 597.3z" fill="#000"/>
<path d="M335.5 638.6L340.1 633.1L345.1 637.6L348.1 649.7L345.1 661.8L345.1 665.8L351.2 673.9L352.2 686.0L354.2 696.1L360.2 704.1L361.2 709.2L356.2 712.2L350.2 712.7L346.1 710.2L346.1 703.1L340.1 691.0L336.0 675.9L335.5 655.8z" fill="#000"/>
<circle cx="409.6" cy="559.0" r="7.6" fill="#000"/>
<path d="M436.8 565.1L439.8 569.6" stroke="#000" stroke-width="13.2" fill="none"/>
<circle cx="457.5" cy="554.0" r="3.5" fill="#000"/>
<path d="M471.1 554.0L475.1 560.0L479.1 567.1L480.1 574.1L485.2 578.7L490.2 576.7L492.2 568.1L494.2 562.1L499.3 565.1L503.3 570.1L511.4 577.7L521.5 578.7L526.5 581.2L530.5 584.7L540.6 583.7L540.6 554.0z" fill="#000"/>
<path d="M499.3 588.3L505.3 586.7L511.4 589.3L521.5 595.3L527.5 602.4L531.5 606.4L535.6 604.4L540.6 600.3L540.6 629.6L533.5 629.1L527.5 630.6L521.5 624.5L517.4 617.5L511.4 613.4L506.3 608.9L501.3 610.4L495.3 611.4L491.7 606.4L493.2 600.3L496.3 595.3z" fill="#000"/>
<path d="M480.6 634.6L482.2 638.6" stroke="#000" stroke-width="12.2" fill="none"/>
<path d="M386.9 666.9L389.5 678.9" stroke="#000" stroke-width="12.2" fill="none"/>
<path d="M408.1 667.4L410.6 681.0" stroke="#000" stroke-width="13.2" fill="none"/>
<path d="M432.8 679.9L426.7 691.0L425.7 704.1" stroke="#000" stroke-width="13.8" fill="none"/>
<circle cx="426.7" cy="703.1" r="8.6" fill="#000"/>
<path d="M449.4 694.1L453.4 706.1" stroke="#000" stroke-width="12.7" fill="none"/>
<path d="M473.1 661.8L479.1 660.3L487.2 664.8L492.2 672.9L500.3 676.9L501.8 686.0L501.3 706.1L498.3 711.7L492.2 711.2L488.7 706.1L489.2 694.1L486.2 688.0L482.2 688.0L479.1 696.1L477.1 703.1L473.1 705.1L469.1 702.1L466.0 694.1L467.0 686.0L472.1 677.9L472.6 667.9z" fill="#000"/>
<path d="M511.4 685.0L517.4 684.0L521.5 688.0L525.5 698.1L529.5 703.1L533.5 701.1L535.6 692.0L540.6 689.0L540.6 713.2L526.5 712.7L518.4 710.7L513.4 704.1L510.4 694.1z" fill="#000"/>
<path d="M399.5 708.2L402.6 707.2" stroke="#000" stroke-width="10.1" fill="none"/>
<path d="M539.5 554.5L750.6 554.5L750.6 712.2L539.5 712.2z" fill="#000"/>
<path d="M558.1 554.0L570.2 556.0L575.3 562.1L580.3 563.6L588.4 560.5L594.4 563.1L599.5 569.6L604.5 571.1L616.6 570.1L621.6 573.1L626.7 578.7L636.7 583.2L641.8 582.7L644.8 579.7L650.8 578.7L654.9 580.7L658.9 585.7L664.9 588.8L679.1 589.8L687.1 590.8L692.2 595.3L697.2 601.9L701.2 600.8L703.2 594.3L707.3 590.8L712.3 591.8L716.3 597.3L721.4 601.4L726.4 596.3L731.5 593.8L736.5 596.3L743.5 599.3L750.6 597.8L750.6 554.0z" fill="#fff"/>
<path d="M539.0 584.2L543.0 584.7L548.1 590.3L554.1 592.8L563.2 589.8L567.2 590.3L573.3 594.8L580.3 598.3L583.8 601.9L582.3 608.4L578.3 614.5L574.3 616.5L570.2 612.4L568.2 604.4L564.2 601.9L559.1 603.4L555.1 608.4L551.1 610.4L547.1 606.4L544.0 601.9L539.0 601.4z" fill="#fff"/>
<path d="M596.4 606.4L600.5 604.9L608.5 607.4L614.6 612.4L619.6 618.5L622.6 623.5L620.6 628.1L616.6 630.1L611.5 626.5L606.5 622.5L601.5 621.0L596.4 622.5L593.4 620.5L593.4 614.5z" fill="#fff"/>
<path d="M632.7 623.5L636.7 619.0L644.8 614.5L655.9 614.5L661.9 620.5L669.0 624.0L674.0 621.5L678.0 618.0L683.1 618.0L688.1 625.5L692.2 627.6L700.2 627.0L707.3 622.0L712.3 622.5L717.3 626.5L726.4 625.5L731.5 631.6L735.5 633.6L739.5 630.6L744.6 625.0L750.6 627.6L750.6 646.2L744.6 646.7L741.5 650.7L740.5 657.8L737.5 659.3L731.5 654.8L723.4 648.7L717.3 647.2L714.3 650.7L711.3 655.8L707.3 656.3L703.2 652.7L699.2 645.7L695.2 644.2L681.1 644.2L675.0 641.7L670.0 638.6L660.9 638.1L655.9 634.6L651.9 631.6L645.8 631.6L640.8 635.1L636.7 633.6L633.7 629.6z" fill="#fff"/>
<path d="M539.0 631.6L544.0 634.6L550.1 637.6L558.1 644.7L563.2 646.2L570.2 644.7L582.3 647.7L585.3 651.7L590.4 656.8L594.4 655.8L599.5 652.7L604.5 652.7L610.5 656.8L616.6 660.8L621.6 661.8L630.7 660.3L633.7 662.8L635.7 668.9L632.7 674.9L627.7 679.4L622.6 683.5L621.1 689.0L622.6 696.1L625.7 701.6L630.7 703.1L634.7 699.1L637.7 695.1L641.8 694.1L644.8 698.1L645.8 706.1L647.8 709.7L652.9 711.7L660.9 710.7L669.0 709.7L676.0 711.2L691.1 711.7L711.3 712.2L750.6 712.7L750.6 726.3L539.0 726.3z" fill="#fff"/>
<circle cx="598.6" cy="669.6" r="4.5" fill="#000"/>
<path d="M584.8 678.9L585.3 683.5" stroke="#000" stroke-width="11.6" fill="none"/>
<path d="M607.5 682.0L612.0 678.4" stroke="#000" stroke-width="10.1" fill="none"/>
<path d="M539.0 689.0L544.0 693.0L548.1 700.1L551.6 706.1L550.1 710.2L544.0 712.7L539.0 712.7z" fill="#000"/>
<path d="M655.9 669.9L652.4 676.9" stroke="#fff" stroke-width="7.9" fill="none"/>
<path d="M675.0 676.9L676.5 682.0" stroke="#fff" stroke-width="10.7" fill="none"/>
<path d="M692.2 666.3L701.2 677.9" stroke="#fff" stroke-width="8.5" fill="none"/>
<circle cx="724.6" cy="674.2" r="3.3" fill="#fff"/>
<path d="M749.5 554.5L971.7 554.5L971.7 726.3L749.5 726.3z" fill="#fff"/>
<circle cx="824.1" cy="554.5" r="4.8" fill="#000"/>
<circle cx="844.7" cy="554.0" r="4.5" fill="#000"/>
<circle cx="865.4" cy="554.5" r="5.5" fill="#000"/>
<circle cx="886.5" cy="555.0" r="6.2" fill="#000"/>
<circle cx="906.7" cy="554.0" r="5.5" fill="#000"/>
<path d="M916.3 554.0L921.3 559.0L930.4 559.5L934.4 559.0L941.5 563.1L947.5 564.6L967.7 567.6L967.7 554.0z" fill="#000"/>
<path d="M749.0 598.3L755.0 598.3L761.1 599.8L768.1 599.3L774.2 600.8L777.2 605.4L780.2 612.4L784.3 617.5L788.3 619.0L790.8 615.5L790.3 608.4L790.3 603.4L793.8 600.8L798.4 602.4L803.4 605.9L807.4 606.9L811.5 603.9L815.5 601.9L820.5 603.4L826.6 604.4L832.6 602.4L837.7 601.4L842.7 603.4L846.7 604.4L851.8 602.4L857.8 599.3L863.9 600.8L870.9 600.8L876.0 597.3L882.0 595.8L889.1 597.3L896.1 595.3L906.2 595.3L915.3 595.3L923.3 593.8L931.4 594.8L939.4 593.3L944.5 594.8L946.5 599.3L945.5 606.4L941.5 611.4L939.4 618.5L934.4 620.0L929.4 617.5L925.3 614.5L921.3 616.5L916.3 622.5L911.2 624.5L903.2 623.5L900.1 627.6L898.1 633.6L893.1 635.6L888.0 634.1L883.0 630.1L879.0 629.6L876.0 633.6L877.0 639.6L881.0 643.2L886.0 644.2L892.1 648.7L893.1 654.8L891.1 659.8L887.0 661.8L880.0 661.3L877.0 664.8L877.5 669.9L876.0 674.9L871.9 675.9L865.9 672.9L860.8 669.4L856.8 667.9L853.8 671.9L852.8 677.9L848.8 681.5L842.7 681.0L837.7 677.9L833.6 679.9L833.6 685.0L837.7 690.0L841.7 693.0L844.2 698.1L842.7 703.1L837.7 705.1L832.6 702.1L828.6 698.6L824.6 699.1L823.6 704.1L824.1 709.2L820.5 712.2L810.5 712.7L800.4 710.7L780.2 710.7L760.1 710.7L749.0 712.2z" fill="#000"/>
<path d="M763.1 614.5L765.1 616.0" stroke="#fff" stroke-width="5.1" fill="none"/>
<path d="M769.6 629.6L773.2 627.0L778.2 630.6L783.3 636.1L789.3 637.1L795.3 637.6L797.4 642.7L798.9 649.7L796.4 654.3L792.3 654.3L786.3 649.7L781.2 645.2L774.2 640.7L771.2 634.6z" fill="#fff"/>
<path d="M749.0 629.6L753.0 634.6L758.1 640.7L764.1 645.7L766.6 650.2L763.1 653.8L758.1 652.7L753.0 649.2L749.0 646.7z" fill="#fff"/>
<path d="M814.5 636.6L817.5 641.7" stroke="#fff" stroke-width="11.9" fill="none"/>
<path d="M839.7 639.1L838.7 643.2" stroke="#fff" stroke-width="7.9" fill="none"/>
<circle cx="792.1" cy="679.7" r="4.8" fill="#fff"/>
<path d="M769.1 684.5L771.2 688.0" stroke="#fff" stroke-width="10.7" fill="none"/>
<circle cx="907.4" cy="645.4" r="6.0" fill="#000"/>
<circle cx="928.6" cy="684.0" r="5.7" fill="#000"/>
<path d="M961.1 597.3L961.6 602.4" stroke="#000" stroke-width="11.1" fill="none"/>
<path d="M956.6 649.2L953.5 650.7L950.5 656.8L944.5 665.8L943.5 673.9L946.5 683.0L950.0 691.0L950.0 697.1L945.5 698.6L939.4 696.1L931.4 698.1L925.3 701.1L919.3 699.6L913.2 702.1L911.2 707.2L915.3 711.7L931.4 712.2L961.6 712.2L965.6 708.2L966.6 686.0L965.6 660.8L962.6 651.7z" fill="#000"/>
<path d="M903.0 282.0L941.0 261.0L980.0 252.5L980.0 541.5L936.0 528.0L903.0 503.0z" fill="#fff"/>
<path d="M956.5 280.7L960.5 277.0L964.5 277.4L967.2 281.4L967.8 303.5L968.2 314.2L966.5 320.9L961.8 324.9L953.8 326.9L949.1 330.3L947.4 333.6L949.8 337.6L955.1 337.6L963.1 335.0L966.5 337.6L967.5 343.7L966.5 350.4L961.8 353.7L955.8 354.4L951.8 356.4L949.1 363.8L946.4 377.2L901.5 377.2L901.5 357.1L906.9 363.8L913.6 367.1L920.3 365.1L926.3 361.8L924.3 358.4L918.9 355.1L916.9 350.4L918.9 346.4L925.6 343.7L931.0 341.0L932.3 333.6L933.7 328.9L939.0 323.6L937.7 316.9L936.4 311.5L938.4 306.2L941.7 304.2L947.1 306.8L953.8 311.5L957.1 308.2L956.5 302.2L954.4 293.4L955.1 285.4z" fill="#000"/>
<path d="M961.1 371.1L961.1 377.2" stroke="#000" stroke-width="10.5" fill="none"/>
<path d="M900.2 375.3L946.4 375.3L947.7 382.7L949.1 393.4L946.4 401.5L943.7 408.2L943.7 416.2L941.0 421.5L935.7 423.9L929.7 422.2L923.6 422.2L917.6 423.9L912.9 422.2L910.9 417.5L912.9 413.5L916.9 410.8L924.3 410.5L928.3 408.8L929.0 405.5L925.6 402.8L920.3 400.1L916.9 397.4L916.9 391.4L918.3 386.0L916.3 381.4L912.2 379.3L909.6 382.0L908.2 388.1L906.2 392.7L900.2 394.8z" fill="#000"/>
<path d="M932.3 377.3L932.0 383.4" stroke="#fff" stroke-width="8.3" fill="none"/>
<path d="M962.8 388.7L962.1 402.8" stroke="#000" stroke-width="12.0" fill="none"/>
<path d="M961.1 375.3L961.1 376.0" stroke="#000" stroke-width="10.5" fill="none"/>
<circle cx="953.9" cy="425.2" r="5.4" fill="#000"/>
<path d="M929.7 434.9L933.0 432.9" stroke="#000" stroke-width="11.3" fill="none"/>
<path d="M946.4 440.3L951.1 438.3L958.5 438.6L961.8 443.0L961.8 451.0L959.8 459.7L962.5 468.4L960.5 474.5L953.8 476.5L948.4 473.1L947.7 466.4L949.1 460.4L946.4 456.4L941.7 456.4L936.4 459.7L932.3 456.4L931.7 451.0L934.3 447.0L940.4 443.6z" fill="#000"/>
</g>
<rect x="960.00" y="223.30" width="1085.20" height="27.70"/>
<path d="M987.40 209.40h9.80V264.60h-9.80zM1002.44 209.40h9.80V264.60h-9.80zM1017.48 209.40h9.80V264.60h-9.80zM1032.52 209.40h9.80V264.60h-9.80zM1047.56 209.40h9.80V264.60h-9.80zM1062.60 209.40h9.80V264.60h-9.80zM1077.64 209.40h9.80V264.60h-9.80zM1092.68 209.40h9.80V264.60h-9.80zM1107.72 209.40h9.80V264.60h-9.80zM1122.76 209.40h9.80V264.60h-9.80zM1137.80 209.40h9.80V264.60h-9.80zM1152.84 209.40h9.80V264.60h-9.80zM1167.88 209.40h9.80V264.60h-9.80zM1182.92 209.40h9.80V264.60h-9.80zM1197.96 209.40h9.80V264.60h-9.80zM1213.00 209.40h9.80V264.60h-9.80zM1228.04 209.40h9.80V264.60h-9.80zM1243.08 209.40h9.80V264.60h-9.80zM1258.12 209.40h9.80V264.60h-9.80zM1273.16 209.40h9.80V264.60h-9.80zM1288.20 209.40h9.80V264.60h-9.80zM1303.24 209.40h9.80V264.60h-9.80zM1318.28 209.40h9.80V264.60h-9.80zM1333.32 209.40h9.80V264.60h-9.80zM1348.36 209.40h9.80V264.60h-9.80zM1363.40 209.40h9.80V264.60h-9.80zM1378.44 209.40h9.80V264.60h-9.80zM1393.48 209.40h9.80V264.60h-9.80zM1408.52 209.40h9.80V264.60h-9.80zM1423.56 209.40h9.80V264.60h-9.80zM1438.60 209.40h9.80V264.60h-9.80zM1453.64 209.40h9.80V264.60h-9.80zM1468.68 209.40h9.80V264.60h-9.80zM1483.72 209.40h9.80V264.60h-9.80zM1498.76 209.40h9.80V264.60h-9.80zM1513.80 209.40h9.80V264.60h-9.80zM1528.84 209.40h9.80V264.60h-9.80zM1543.88 209.40h9.80V264.60h-9.80zM1558.92 209.40h9.80V264.60h-9.80zM1573.96 209.40h9.80V264.60h-9.80zM1589.00 209.40h9.80V264.60h-9.80zM1604.04 209.40h9.80V264.60h-9.80zM1619.08 209.40h9.80V264.60h-9.80zM1634.12 209.40h9.80V264.60h-9.80zM1649.16 209.40h9.80V264.60h-9.80zM1664.20 209.40h9.80V264.60h-9.80zM1679.24 209.40h9.80V264.60h-9.80zM1694.28 209.40h9.80V264.60h-9.80zM1709.32 209.40h9.80V264.60h-9.80zM1724.36 209.40h9.80V264.60h-9.80zM1739.40 209.40h9.80V264.60h-9.80zM1754.44 209.40h9.80V264.60h-9.80zM1769.48 209.40h9.80V264.60h-9.80zM1784.52 209.40h9.80V264.60h-9.80zM1799.56 209.40h9.80V264.60h-9.80zM1814.60 209.40h9.80V264.60h-9.80zM1829.64 209.40h9.80V264.60h-9.80zM1844.68 209.40h9.80V264.60h-9.80zM1859.72 209.40h9.80V264.60h-9.80zM1874.76 209.40h9.80V264.60h-9.80z"/>
<rect x="960.00" y="541.60" width="1087.20" height="27.30"/>
<path d="M989.10 528.40h9.70V582.10h-9.70zM1004.97 528.40h9.70V582.10h-9.70zM1020.85 528.40h9.70V582.10h-9.70zM1036.72 528.40h9.70V582.10h-9.70zM1052.59 528.40h9.70V582.10h-9.70zM1068.46 528.40h9.70V582.10h-9.70zM1084.34 528.40h9.70V582.10h-9.70zM1100.21 528.40h9.70V582.10h-9.70zM1116.08 528.40h9.70V582.10h-9.70zM1131.96 528.40h9.70V582.10h-9.70zM1147.83 528.40h9.70V582.10h-9.70zM1163.70 528.40h9.70V582.10h-9.70zM1179.58 528.40h9.70V582.10h-9.70zM1195.45 528.40h9.70V582.10h-9.70zM1211.32 528.40h9.70V582.10h-9.70zM1227.19 528.40h9.70V582.10h-9.70zM1243.07 528.40h9.70V582.10h-9.70zM1258.94 528.40h9.70V582.10h-9.70zM1274.81 528.40h9.70V582.10h-9.70zM1290.69 528.40h9.70V582.10h-9.70zM1306.56 528.40h9.70V582.10h-9.70zM1322.43 528.40h9.70V582.10h-9.70zM1338.31 528.40h9.70V582.10h-9.70zM1354.18 528.40h9.70V582.10h-9.70zM1370.05 528.40h9.70V582.10h-9.70zM1385.92 528.40h9.70V582.10h-9.70zM1401.80 528.40h9.70V582.10h-9.70zM1417.67 528.40h9.70V582.10h-9.70zM1433.54 528.40h9.70V582.10h-9.70zM1449.42 528.40h9.70V582.10h-9.70zM1465.29 528.40h9.70V582.10h-9.70zM1481.16 528.40h9.70V582.10h-9.70zM1497.04 528.40h9.70V582.10h-9.70zM1512.91 528.40h9.70V582.10h-9.70zM1528.78 528.40h9.70V582.10h-9.70zM1544.65 528.40h9.70V582.10h-9.70zM1560.53 528.40h9.70V582.10h-9.70zM1576.40 528.40h9.70V582.10h-9.70zM1592.27 528.40h9.70V582.10h-9.70zM1608.15 528.40h9.70V582.10h-9.70zM1624.02 528.40h9.70V582.10h-9.70zM1639.89 528.40h9.70V582.10h-9.70zM1655.77 528.40h9.70V582.10h-9.70zM1671.64 528.40h9.70V582.10h-9.70zM1687.51 528.40h9.70V582.10h-9.70zM1703.38 528.40h9.70V582.10h-9.70zM1719.26 528.40h9.70V582.10h-9.70zM1735.13 528.40h9.70V582.10h-9.70zM1751.00 528.40h9.70V582.10h-9.70zM1766.88 528.40h9.70V582.10h-9.70zM1782.75 528.40h9.70V582.10h-9.70zM1798.62 528.40h9.70V582.10h-9.70zM1814.50 528.40h9.70V582.10h-9.70zM1830.37 528.40h9.70V582.10h-9.70zM1846.24 528.40h9.70V582.10h-9.70zM1862.12 528.40h9.70V582.10h-9.70zM1877.99 528.40h9.70V582.10h-9.70zM1893.86 528.40h9.70V582.10h-9.70zM1909.73 528.40h9.70V582.10h-9.70zM1925.61 528.40h9.70V582.10h-9.70z"/>
<path fill="#2f6fbe" d="M994.70 166.30H1738.00V157.80L1755.00 174.30L1738.00 190.80V182.30H994.70z"/>
<path fill="#b12418" d="M989.30 492.00H1738.00V483.00L1755.00 499.50L1738.00 516.00V507.00H989.30z"/>
<path fill="#943590" d="M55.00 322.80H255.60V314.60L273.50 331.90L255.60 349.20V341.00H55.00z"/>
<path fill="none" stroke="#2f6fbe" stroke-width="17" d="M1299 567.8H1040.5A158.3 158.3 0 0 1 882.2 409.5V366.3A158.3 158.3 0 0 1 1040.5 208.0H1157"/>
<path fill="#2f6fbe" d="M1156.2 183.8L1180.6 207.7L1156.2 231.6z"/>
<path fill="none" stroke="#b12418" stroke-width="16.4" d="M1310.4 240.2H1018.6A126.0 126.0 0 0 0 892.6 366.2V408.4A126.0 126.0 0 0 0 1018.6 534.4H1165"/>
<path fill="#b12418" d="M1164.5 509.3L1191.4 534.4L1164.5 559.6z"/>
<g>
<text transform="translate(37.70 274.80) scale(1.0430 1)" font-size="50.91" fill="#000" stroke="#000" stroke-width="0.5">Input</text>
<text transform="translate(168.37 274.80) scale(1.0444 1)" font-size="50.91" fill="#2f6fbe" stroke="#2f6fbe" stroke-width="0.5">f</text>
<text transform="translate(185.47 285.40) scale(0.7698 1)" font-size="30.69" fill="#2f6fbe" stroke="#2f6fbe" stroke-width="1.2">1</text>
<text transform="translate(210.56 274.80) scale(0.9651 1)" font-size="50.91" fill="#000" stroke="#000" stroke-width="0.5">&amp;</text>
<text transform="translate(254.84 274.80) scale(1.0815 1)" font-size="50.91" fill="#b12418" stroke="#b12418" stroke-width="0.5">f</text>
<text transform="translate(271.11 285.40) scale(1.1286 1)" font-size="30.69" fill="#b12418" stroke="#b12418" stroke-width="1.2">2</text>
<text transform="translate(1192.08 61.70) scale(0.9636 1)" font-size="50.18" fill="#000" stroke="#000" stroke-width="0.5">Pass</text>
<text transform="translate(1311.01 61.70) scale(1.1170 1)" font-size="50.18" fill="#2f6fbe" stroke="#2f6fbe" stroke-width="0.5">f</text>
<text transform="translate(1328.59 72.20) scale(0.7221 1)" font-size="32.87" fill="#2f6fbe" stroke="#2f6fbe" stroke-width="1.2">1</text>
<text transform="translate(1090.16 123.30) scale(0.9900 1)" font-size="50.18" fill="#000" stroke="#000" stroke-width="0.5">(high</text>
<text transform="translate(1212.01 123.30) scale(1.0545 1)" font-size="50.18" fill="#000" stroke="#000" stroke-width="0.5">efficiency)</text>
<text transform="translate(1601.61 59.80) scale(1.0272 1)" font-size="50.18" fill="#000" stroke="#000" stroke-width="0.5">Reflect</text>
<text transform="translate(1773.91 59.80) scale(1.1245 1)" font-size="50.18" fill="#b12418" stroke="#b12418" stroke-width="0.5">f</text>
<text transform="translate(1790.77 70.30) scale(1.0000 1)" font-size="32.87" fill="#b12418" stroke="#b12418" stroke-width="1.2">2</text>
<text transform="translate(1534.25 121.40) scale(1.0255 1)" font-size="50.18" fill="#000" stroke="#000" stroke-width="0.5">(low</text>
<text transform="translate(1641.47 121.40) scale(1.0276 1)" font-size="50.18" fill="#000" stroke="#000" stroke-width="0.5">cross</text>
<text transform="translate(1775.95 121.40) scale(1.0656 1)" font-size="50.18" fill="#000" stroke="#000" stroke-width="0.5">talk)</text>
<text transform="translate(1181.08 654.50) scale(0.9636 1)" font-size="50.18" fill="#000" stroke="#000" stroke-width="0.5">Pass</text>
<text transform="translate(1300.21 654.50) scale(1.1170 1)" font-size="50.18" fill="#b12418" stroke="#b12418" stroke-width="0.5">f</text>
<text transform="translate(1316.32 665.60) scale(1.0333 1)" font-size="32.87" fill="#b12418" stroke="#b12418" stroke-width="1.2">2</text>
<text transform="translate(1078.24 716.20) scale(0.9948 1)" font-size="50.18" fill="#000" stroke="#000" stroke-width="0.5">(high</text>
<text transform="translate(1200.61 716.20) scale(1.0545 1)" font-size="50.18" fill="#000" stroke="#000" stroke-width="0.5">efficiency)</text>
<text transform="translate(1618.42 652.20) scale(1.0265 1)" font-size="50.18" fill="#000" stroke="#000" stroke-width="0.5">Reflect</text>
<text transform="translate(1791.21 652.20) scale(1.1170 1)" font-size="50.18" fill="#2f6fbe" stroke="#2f6fbe" stroke-width="0.5">f</text>
<text transform="translate(1808.65 663.20) scale(0.7009 1)" font-size="32.87" fill="#2f6fbe" stroke="#2f6fbe" stroke-width="1.2">1</text>
<text transform="translate(1550.36 714.40) scale(1.0210 1)" font-size="50.18" fill="#000" stroke="#000" stroke-width="0.5">(low</text>
<text transform="translate(1657.66 714.40) scale(1.0284 1)" font-size="50.18" fill="#000" stroke="#000" stroke-width="0.5">cross</text>
<text transform="translate(1792.65 714.40) scale(1.0612 1)" font-size="50.18" fill="#000" stroke="#000" stroke-width="0.5">talk)</text>
</g>
<rect x="297.6" y="912.4" width="695.2" height="650.2"/>
<rect x="58.6" y="1216" width="240" height="42.5"/>
<path fill="#e8e8e8" stroke="#000" stroke-width="4" stroke-linejoin="miter" d="M60.9 1173.5H233.4V1166L248.7 1181.4L233.4 1196.9V1189.2H60.9z"/>
<text transform="translate(38.92 1130.90) scale(1.1727 1)" font-size="41.59" fill="#000" stroke="#000" stroke-width="0.5">f</text>
<text transform="translate(54.76 1141.60) scale(0.5941 1)" font-size="29.24" fill="#000" stroke="#000" stroke-width="1.2">1</text>
<text transform="translate(79.04 1130.90) scale(1.0039 1)" font-size="41.59" fill="#000" stroke="#000" stroke-width="0.5">&amp;</text>
<text transform="translate(116.23 1130.90) scale(1.1545 1)" font-size="41.59" fill="#000" stroke="#000" stroke-width="0.5">f</text>
<text transform="translate(130.01 1141.60) scale(0.9962 1)" font-size="29.24" fill="#000" stroke="#000" stroke-width="1.2">2</text>
<text transform="translate(155.13 1130.90) scale(1.0157 1)" font-size="41.59" fill="#000" stroke="#000" stroke-width="0.5">&amp;</text>
<text transform="translate(193.39 1130.90) scale(1.0963 1)" font-size="41.59" fill="#000" stroke="#000" stroke-width="1.2">...</text>
<text transform="translate(239.92 1130.90) scale(1.1727 1)" font-size="41.59" fill="#000" stroke="#000" stroke-width="0.5">f</text>
<text transform="translate(254.25 1141.60) scale(1.1373 1)" font-size="24.50" fill="#000" stroke="#000" stroke-width="1.2">n</text>
<text transform="translate(528.29 1251.00) scale(0.9827 1)" font-size="43.78" fill="#fff" stroke="#fff" stroke-width="0.5">Design</text>
<text transform="translate(671.63 1251.00) scale(0.9429 1)" font-size="43.78" fill="#fff" stroke="#fff" stroke-width="0.5">Area</text>
<rect x="990.00" y="989.70" width="1045.20" height="26.90"/>
<path d="M999.30 976.70h8.80V1029.40h-8.80zM1014.03 976.70h8.80V1029.40h-8.80zM1028.76 976.70h8.80V1029.40h-8.80zM1043.50 976.70h8.80V1029.40h-8.80zM1058.23 976.70h8.80V1029.40h-8.80zM1072.96 976.70h8.80V1029.40h-8.80zM1087.69 976.70h8.80V1029.40h-8.80zM1102.42 976.70h8.80V1029.40h-8.80zM1117.16 976.70h8.80V1029.40h-8.80zM1131.89 976.70h8.80V1029.40h-8.80zM1146.62 976.70h8.80V1029.40h-8.80zM1161.35 976.70h8.80V1029.40h-8.80zM1176.08 976.70h8.80V1029.40h-8.80zM1190.82 976.70h8.80V1029.40h-8.80zM1205.55 976.70h8.80V1029.40h-8.80zM1220.28 976.70h8.80V1029.40h-8.80zM1235.01 976.70h8.80V1029.40h-8.80zM1249.74 976.70h8.80V1029.40h-8.80zM1264.48 976.70h8.80V1029.40h-8.80zM1279.21 976.70h8.80V1029.40h-8.80zM1293.94 976.70h8.80V1029.40h-8.80zM1308.67 976.70h8.80V1029.40h-8.80zM1323.40 976.70h8.80V1029.40h-8.80zM1338.14 976.70h8.80V1029.40h-8.80zM1352.87 976.70h8.80V1029.40h-8.80zM1367.60 976.70h8.80V1029.40h-8.80zM1382.33 976.70h8.80V1029.40h-8.80zM1397.06 976.70h8.80V1029.40h-8.80zM1411.80 976.70h8.80V1029.40h-8.80zM1426.53 976.70h8.80V1029.40h-8.80zM1441.26 976.70h8.80V1029.40h-8.80zM1455.99 976.70h8.80V1029.40h-8.80zM1470.72 976.70h8.80V1029.40h-8.80zM1485.46 976.70h8.80V1029.40h-8.80zM1500.19 976.70h8.80V1029.40h-8.80zM1514.92 976.70h8.80V1029.40h-8.80zM1529.65 976.70h8.80V1029.40h-8.80zM1544.38 976.70h8.80V1029.40h-8.80zM1559.12 976.70h8.80V1029.40h-8.80zM1573.85 976.70h8.80V1029.40h-8.80zM1588.58 976.70h8.80V1029.40h-8.80zM1603.31 976.70h8.80V1029.40h-8.80zM1618.04 976.70h8.80V1029.40h-8.80zM1632.78 976.70h8.80V1029.40h-8.80zM1647.51 976.70h8.80V1029.40h-8.80zM1662.24 976.70h8.80V1029.40h-8.80zM1676.97 976.70h8.80V1029.40h-8.80zM1691.70 976.70h8.80V1029.40h-8.80zM1706.44 976.70h8.80V1029.40h-8.80zM1721.17 976.70h8.80V1029.40h-8.80zM1735.90 976.70h8.80V1029.40h-8.80zM1750.63 976.70h8.80V1029.40h-8.80zM1765.36 976.70h8.80V1029.40h-8.80zM1780.10 976.70h8.80V1029.40h-8.80zM1794.83 976.70h8.80V1029.40h-8.80zM1809.56 976.70h8.80V1029.40h-8.80zM1824.29 976.70h8.80V1029.40h-8.80zM1839.02 976.70h8.80V1029.40h-8.80zM1853.76 976.70h8.80V1029.40h-8.80zM1868.49 976.70h8.80V1029.40h-8.80z"/>
<rect x="990.00" y="1110.60" width="1046.60" height="27.30"/>
<path d="M999.90 1097.40h9.00V1150.90h-9.00zM1015.46 1097.40h9.00V1150.90h-9.00zM1031.03 1097.40h9.00V1150.90h-9.00zM1046.59 1097.40h9.00V1150.90h-9.00zM1062.16 1097.40h9.00V1150.90h-9.00zM1077.72 1097.40h9.00V1150.90h-9.00zM1093.28 1097.40h9.00V1150.90h-9.00zM1108.85 1097.40h9.00V1150.90h-9.00zM1124.41 1097.40h9.00V1150.90h-9.00zM1139.98 1097.40h9.00V1150.90h-9.00zM1155.54 1097.40h9.00V1150.90h-9.00zM1171.10 1097.40h9.00V1150.90h-9.00zM1186.67 1097.40h9.00V1150.90h-9.00zM1202.23 1097.40h9.00V1150.90h-9.00zM1217.80 1097.40h9.00V1150.90h-9.00zM1233.36 1097.40h9.00V1150.90h-9.00zM1248.92 1097.40h9.00V1150.90h-9.00zM1264.49 1097.40h9.00V1150.90h-9.00zM1280.05 1097.40h9.00V1150.90h-9.00zM1295.62 1097.40h9.00V1150.90h-9.00zM1311.18 1097.40h9.00V1150.90h-9.00zM1326.74 1097.40h9.00V1150.90h-9.00zM1342.31 1097.40h9.00V1150.90h-9.00zM1357.87 1097.40h9.00V1150.90h-9.00zM1373.44 1097.40h9.00V1150.90h-9.00zM1389.00 1097.40h9.00V1150.90h-9.00zM1404.56 1097.40h9.00V1150.90h-9.00zM1420.13 1097.40h9.00V1150.90h-9.00zM1435.69 1097.40h9.00V1150.90h-9.00zM1451.26 1097.40h9.00V1150.90h-9.00zM1466.82 1097.40h9.00V1150.90h-9.00zM1482.38 1097.40h9.00V1150.90h-9.00zM1497.95 1097.40h9.00V1150.90h-9.00zM1513.51 1097.40h9.00V1150.90h-9.00zM1529.08 1097.40h9.00V1150.90h-9.00zM1544.64 1097.40h9.00V1150.90h-9.00zM1560.20 1097.40h9.00V1150.90h-9.00zM1575.77 1097.40h9.00V1150.90h-9.00zM1591.33 1097.40h9.00V1150.90h-9.00zM1606.90 1097.40h9.00V1150.90h-9.00zM1622.46 1097.40h9.00V1150.90h-9.00zM1638.02 1097.40h9.00V1150.90h-9.00zM1653.59 1097.40h9.00V1150.90h-9.00zM1669.15 1097.40h9.00V1150.90h-9.00zM1684.72 1097.40h9.00V1150.90h-9.00zM1700.28 1097.40h9.00V1150.90h-9.00zM1715.84 1097.40h9.00V1150.90h-9.00zM1731.41 1097.40h9.00V1150.90h-9.00zM1746.97 1097.40h9.00V1150.90h-9.00zM1762.54 1097.40h9.00V1150.90h-9.00zM1778.10 1097.40h9.00V1150.90h-9.00zM1793.66 1097.40h9.00V1150.90h-9.00zM1809.23 1097.40h9.00V1150.90h-9.00zM1824.79 1097.40h9.00V1150.90h-9.00zM1840.36 1097.40h9.00V1150.90h-9.00zM1855.92 1097.40h9.00V1150.90h-9.00zM1871.48 1097.40h9.00V1150.90h-9.00zM1887.05 1097.40h9.00V1150.90h-9.00zM1902.61 1097.40h9.00V1150.90h-9.00zM1918.18 1097.40h9.00V1150.90h-9.00z"/>
<rect x="990.00" y="1470.10" width="1030.80" height="27.30"/>
<path d="M1000.00 1457.20h9.60V1510.20h-9.60zM1016.39 1457.20h9.60V1510.20h-9.60zM1032.78 1457.20h9.60V1510.20h-9.60zM1049.17 1457.20h9.60V1510.20h-9.60zM1065.56 1457.20h9.60V1510.20h-9.60zM1081.95 1457.20h9.60V1510.20h-9.60zM1098.34 1457.20h9.60V1510.20h-9.60zM1114.73 1457.20h9.60V1510.20h-9.60zM1131.12 1457.20h9.60V1510.20h-9.60zM1147.51 1457.20h9.60V1510.20h-9.60zM1163.90 1457.20h9.60V1510.20h-9.60zM1180.29 1457.20h9.60V1510.20h-9.60zM1196.68 1457.20h9.60V1510.20h-9.60zM1213.07 1457.20h9.60V1510.20h-9.60zM1229.46 1457.20h9.60V1510.20h-9.60zM1245.85 1457.20h9.60V1510.20h-9.60zM1262.24 1457.20h9.60V1510.20h-9.60zM1278.63 1457.20h9.60V1510.20h-9.60zM1295.02 1457.20h9.60V1510.20h-9.60zM1311.41 1457.20h9.60V1510.20h-9.60zM1327.80 1457.20h9.60V1510.20h-9.60zM1344.19 1457.20h9.60V1510.20h-9.60zM1360.58 1457.20h9.60V1510.20h-9.60zM1376.97 1457.20h9.60V1510.20h-9.60zM1393.36 1457.20h9.60V1510.20h-9.60zM1409.75 1457.20h9.60V1510.20h-9.60zM1426.14 1457.20h9.60V1510.20h-9.60zM1442.53 1457.20h9.60V1510.20h-9.60zM1458.92 1457.20h9.60V1510.20h-9.60zM1475.31 1457.20h9.60V1510.20h-9.60zM1491.70 1457.20h9.60V1510.20h-9.60zM1508.09 1457.20h9.60V1510.20h-9.60zM1524.48 1457.20h9.60V1510.20h-9.60zM1540.87 1457.20h9.60V1510.20h-9.60zM1557.26 1457.20h9.60V1510.20h-9.60zM1573.65 1457.20h9.60V1510.20h-9.60zM1590.04 1457.20h9.60V1510.20h-9.60zM1606.43 1457.20h9.60V1510.20h-9.60zM1622.82 1457.20h9.60V1510.20h-9.60zM1639.21 1457.20h9.60V1510.20h-9.60zM1655.60 1457.20h9.60V1510.20h-9.60zM1671.99 1457.20h9.60V1510.20h-9.60zM1688.38 1457.20h9.60V1510.20h-9.60zM1704.77 1457.20h9.60V1510.20h-9.60zM1721.16 1457.20h9.60V1510.20h-9.60zM1737.55 1457.20h9.60V1510.20h-9.60zM1753.94 1457.20h9.60V1510.20h-9.60zM1770.33 1457.20h9.60V1510.20h-9.60zM1786.72 1457.20h9.60V1510.20h-9.60zM1803.11 1457.20h9.60V1510.20h-9.60zM1819.50 1457.20h9.60V1510.20h-9.60zM1835.89 1457.20h9.60V1510.20h-9.60zM1852.28 1457.20h9.60V1510.20h-9.60zM1868.67 1457.20h9.60V1510.20h-9.60zM1885.06 1457.20h9.60V1510.20h-9.60zM1901.45 1457.20h9.60V1510.20h-9.60zM1917.84 1457.20h9.60V1510.20h-9.60zM1934.23 1457.20h9.60V1510.20h-9.60zM1950.62 1457.20h9.60V1510.20h-9.60zM1967.01 1457.20h9.60V1510.20h-9.60z"/>
<path fill="#4470b7" d="M1022.00 936.35H1659.80V929.40L1673.90 943.10L1659.80 956.80V949.85H1022.00z"/>
<path fill="#a43125" d="M1022.00 1176.70H1659.80V1169.90L1673.90 1183.50L1659.80 1197.10V1190.30H1022.00z"/>
<path fill="#72a44f" d="M1022.00 1430.20H1660.50V1423.70L1673.80 1437.00L1660.50 1450.30V1443.80H1022.00z"/>
<text transform="translate(1333.13 904.20) scale(1.1535 1)" font-size="40.76" fill="#4470b7" stroke="#4470b7" stroke-width="0.5">f</text>
<text transform="translate(1347.97 914.40) scale(0.6337 1)" font-size="29.24" fill="#4470b7" stroke="#4470b7" stroke-width="1.2">1</text>
<text transform="translate(1333.13 1238.50) scale(1.1535 1)" font-size="40.76" fill="#a43125" stroke="#a43125" stroke-width="0.5">f</text>
<text transform="translate(1346.27 1248.00) scale(1.0189 1)" font-size="29.24" fill="#a43125" stroke="#a43125" stroke-width="1.2">2</text>
<text transform="translate(1333.13 1411.20) scale(1.1535 1)" font-size="40.76" fill="#72a44f" stroke="#72a44f" stroke-width="0.5">f</text>
<text transform="translate(1346.50 1422.10) scale(1.2337 1)" font-size="24.50" fill="#72a44f" stroke="#72a44f" stroke-width="1.2">n</text>
<circle cx="1443.6" cy="1223.8" r="7"/>
<circle cx="1443.6" cy="1282.2" r="7"/>
<circle cx="1443.6" cy="1341.2" r="7"/>
<circle cx="1443.6" cy="1400.1" r="7"/>
</svg>
</body></html>
